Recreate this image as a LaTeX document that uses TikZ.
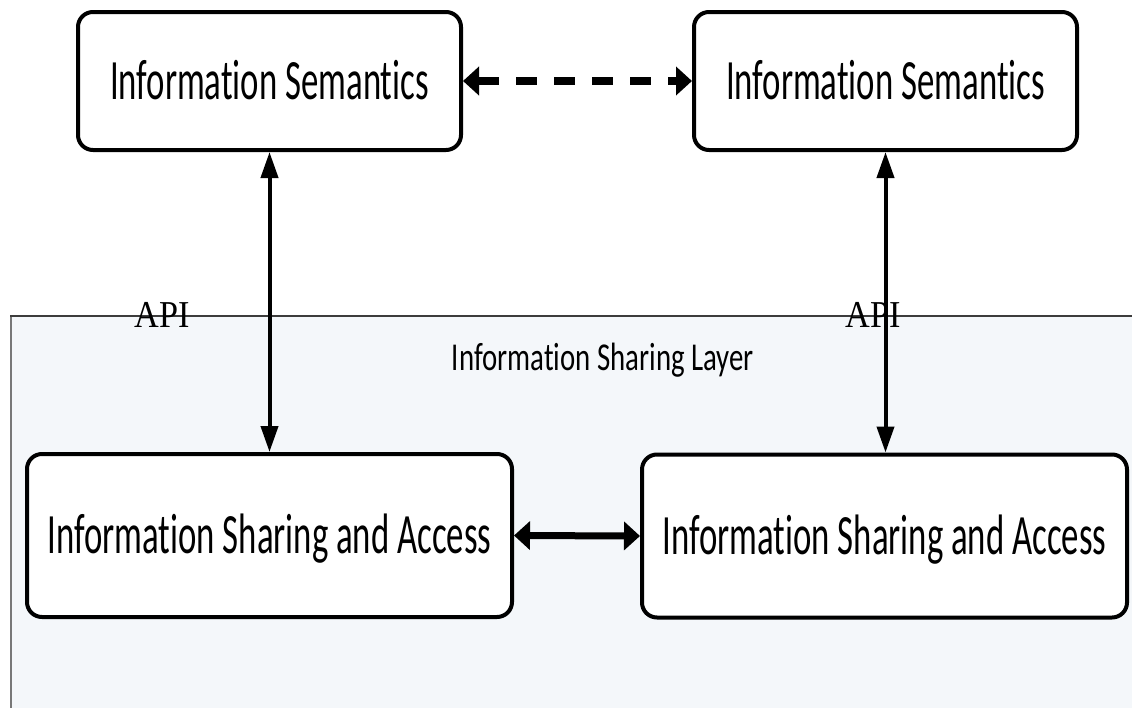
\documentclass[tikz,border=0pt]{standalone}
\usepackage{fontspec}
\usetikzlibrary{arrows.meta}
\newfontfamily\boxfont[FakeStretch=0.61,Ligatures={NoCommon,NoContextual}]{Carlito}
\newfontfamily\layerfont[FakeStretch=0.73,Ligatures={NoCommon,NoContextual}]{Carlito}
\newfontfamily\apifont[FakeStretch=0.9]{Liberation Serif}
\definecolor{layerfill}{RGB}{244,247,250}
\definecolor{layertop}{RGB}{60,60,60}
\definecolor{layerside}{RGB}{120,120,120}
\begin{document}
\begin{tikzpicture}[x=1pt,y=-1pt,
  box/.style={draw=black, line width=4pt, rounded corners=15pt, fill=white,
    inner sep=0pt, text height=36pt, text depth=0pt,
    font=\boxfont\fontsize{57}{60}\selectfont},
  vtip/.tip={Triangle[length=26pt,width=17pt]},
  htip/.tip={Triangle[length=16pt,width=28pt]},
  vlink/.style={line width=4pt, vtip-vtip},
  hlink/.style={line width=7pt, htip-htip},
  dlink/.style={line width=8pt, dash pattern=on 21pt off 17pt, htip-htip},
  apilabel/.style={anchor=base, inner sep=0pt, font=\apifont\fontsize{38}{40}\selectfont},
]
\useasboundingbox (0,0) rectangle (1132,707);
\clip (0,0) rectangle (1132,707);

% shared layer background, open to the right and bottom
\fill[layerfill] (11,316) rectangle (1160,730);
\draw[layerside, line width=2pt] (11,730) -- (11,316);
\draw[layertop, line width=2.5pt] (10,316) -- (1160,316);
\node[anchor=base, inner sep=0pt, font=\layerfont\fontsize{39.5}{42}\selectfont]
  (layerlabel) at (603,370) {Information Sharing Layer};

% boxes
\node[box, minimum width=383pt, minimum height=138pt] (tl) at (269.5,81) {Information Semantics};
\node[box, minimum width=383pt, minimum height=138pt] (tr) at (885.5,81) {Information Semantics};
\node[box, minimum width=485pt, minimum height=163pt] (bl) at (269.5,535.5) {Information Sharing and Access};
\node[box, minimum width=485pt, minimum height=163pt] (br) at (884.5,536) {Information Sharing and Access};

% connectors
\draw[dlink] (tl.east) -- (tr.west);
\draw[hlink] (bl.east) -- (br.west);
\draw[vlink] (tl.south) -- (tl.south |- bl.north);
\draw[vlink] (tr.south) -- (tr.south |- br.north);

% interface labels
\node[apilabel] (apiL) at (162,327) {API};
\node[apilabel] (apiR) at (873,327) {API};
\end{tikzpicture}
\end{document}
